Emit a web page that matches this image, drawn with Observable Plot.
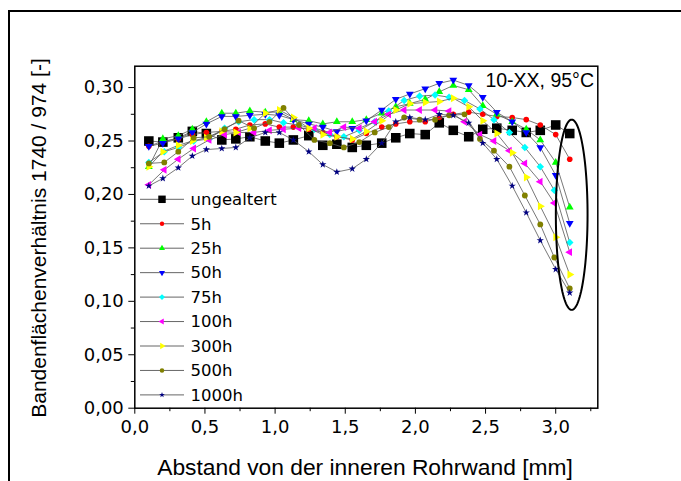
<!DOCTYPE html>
<html><head><meta charset="utf-8">
<script src="https://cdn.jsdelivr.net/npm/d3@7"></script>
<script src="https://cdn.jsdelivr.net/npm/@observablehq/plot@0.6"></script>
<style>
body{margin:0;background:#fff;}
#wrap{position:relative;width:681px;height:481px;overflow:hidden;background:#fff;}
#chart{position:absolute;left:0;top:0;}
#border{position:absolute;left:8px;top:10px;width:800px;height:600px;border:2px solid #000;pointer-events:none;}
</style></head><body>
<div id="wrap"><div id="chart"></div><div id="border"></div></div>
<script>
// x positions (mm) — two sampling grids
const xA = [0.10,0.20,0.31,0.41,0.51,0.62,0.72,0.82,0.93,1.03,1.13,1.24,1.34,1.44,1.55,1.65,1.76,1.86,1.96,2.07,2.17,2.27,2.38,2.48,2.58,2.69,2.79,2.89,3.00,3.10];
const xB = [0.10,0.21,0.31,0.42,0.53,0.64,0.74,0.85,0.96,1.06,1.17,1.28,1.39,1.49,1.60,1.71,1.81,1.92,2.03,2.14,2.24,2.35,2.46,2.56,2.67,2.78,2.89,2.99,3.10];

const yUngealtert = [0.250,0.249,0.253,0.259,0.257,0.251,0.252,0.254,0.250,0.248,0.251,0.255,0.246,0.247,0.244,0.246,0.248,0.253,0.257,0.256,0.267,0.260,0.254,0.261,0.262,0.260,0.258,0.260,0.265,0.257];
const y5h   = [0.245,0.250,0.252,0.256,0.258,0.259,0.261,0.265,0.266,0.263,0.263,0.261,0.258,0.254,0.251,0.257,0.263,0.266,0.268,0.268,0.272,0.275,0.277,0.275,0.273,0.272,0.270,0.265,0.256,0.233];
const y25h  = [0.226,0.252,0.255,0.261,0.268,0.276,0.276,0.278,0.277,0.277,0.270,0.269,0.266,0.268,0.268,0.270,0.276,0.282,0.285,0.289,0.296,0.302,0.298,0.283,0.275,0.268,0.261,0.251,0.230,0.188];
const y50h  = [0.245,0.248,0.252,0.258,0.266,0.273,0.273,0.274,0.275,0.274,0.270,0.266,0.263,0.259,0.262,0.269,0.279,0.289,0.294,0.299,0.304,0.307,0.302,0.291,0.277,0.268,0.258,0.244,0.218,0.173];
const y75h  = [0.230,0.240,0.244,0.250,0.252,0.262,0.268,0.270,0.270,0.267,0.265,0.261,0.256,0.254,0.260,0.268,0.278,0.288,0.292,0.293,0.291,0.288,0.280,0.270,0.258,0.244,0.226,0.204,0.155];
const y100h = [0.209,0.223,0.233,0.243,0.251,0.256,0.258,0.258,0.260,0.261,0.262,0.262,0.258,0.263,0.262,0.268,0.275,0.279,0.279,0.279,0.278,0.268,0.256,0.250,0.241,0.229,0.212,0.192,0.146];
const y300h = [0.226,0.240,0.246,0.250,0.253,0.259,0.258,0.262,0.276,0.279,0.272,0.262,0.256,0.254,0.252,0.259,0.269,0.279,0.285,0.286,0.287,0.290,0.282,0.269,0.257,0.239,0.216,0.189,0.160,0.125];
const y500h = [0.229,0.230,0.240,0.253,0.254,0.261,0.269,0.262,0.268,0.281,0.265,0.251,0.248,0.244,0.249,0.258,0.263,0.272,0.270,0.270,0.274,0.275,0.252,0.241,0.226,0.199,0.172,0.141,0.112];
const y1000h= [0.208,0.215,0.225,0.236,0.242,0.243,0.244,0.253,0.258,0.258,0.251,0.240,0.228,0.221,0.224,0.233,0.248,0.268,0.272,0.270,0.275,0.274,0.267,0.248,0.233,0.208,0.183,0.157,0.130,0.108];

const seriesNames = ["ungealtert","5h","25h","50h","75h","100h","300h","500h","1000h"];
const seriesX = [xA,xA,xA,xA,xB,xB,xA,xB,xA];
const seriesY = [yUngealtert,y5h,y25h,y50h,y75h,y100h,y300h,y500h,y1000h];
const seriesColors = ["#000000","#ff0000","#00ff00","#0000ff","#00ffff","#ff00ff","#ffff00","#808000","#000080"];

const xTicks = [0,0.5,1,1.5,2,2.5,3];
const xMinor = [0.25,0.75,1.25,1.75,2.25,2.75,3.25];
const yTicks = [0,0.05,0.10,0.15,0.20,0.25,0.30];
const yMinor = [0.025,0.075,0.125,0.175,0.225,0.275];
const note = "10-XX, 95°C";
const xTitle = "Abstand von der inneren Rohrwand [mm]";
const yTitle = "Bandenflächenverhältnis 1740 / 974 [-]";
const ellipse = {cx: 3.114, cy: 0.181, rx: 0.113, ry: 0.089};

// custom symbols
const s3 = Math.sqrt(3);
const triDown = {draw(c, size){const y=-Math.sqrt(size/(s3*3)); c.moveTo(0,-y*2); c.lineTo(-s3*y,y); c.lineTo(s3*y,y); c.closePath();}};
const triLeft = {draw(c, size){const y=-Math.sqrt(size/(s3*3)); c.moveTo(y*2,0); c.lineTo(-y,-s3*y); c.lineTo(-y,s3*y); c.closePath();}};
const triRight = {draw(c, size){const y=-Math.sqrt(size/(s3*3)); c.moveTo(-y*2,0); c.lineTo(y,-s3*y); c.lineTo(y,s3*y); c.closePath();}};
const diamond = {draw(c, size){const h=Math.sqrt(size/2); c.moveTo(0,-h); c.lineTo(h,0); c.lineTo(0,h); c.lineTo(-h,0); c.closePath();}};
const seriesSymbols = [d3.symbolSquare, d3.symbolCircle, d3.symbolTriangle, triDown, diamond, triLeft, triRight, d3.symbolCircle, d3.symbolStar];
const seriesR = [5.4, 2.8, 2.9, 2.9, 3.0, 2.9, 3.0, 2.9, 2.3];

const tables = seriesNames.map((n, i) => seriesY[i].map((v, j) => ({x: seriesX[i][j], y: v})));

const ellPts = d3.range(0, 361, 3).map(a => ({x: ellipse.cx + ellipse.rx*Math.cos(a*Math.PI/180), y: ellipse.cy + ellipse.ry*Math.sin(a*Math.PI/180)}));

const marks = [];
tables.forEach((t, i) => {
  marks.push(Plot.line(t, {x: "x", y: "y", stroke: "#555", strokeWidth: 0.8}));
  marks.push(Plot.dot(t, {x: "x", y: "y", symbol: seriesSymbols[i], r: seriesR[i], fill: seriesColors[i], stroke: "none"}));
});
marks.push(Plot.line(ellPts, {x: "x", y: "y", stroke: "#000", strokeWidth: 2}));

const fmtX = d => d.toFixed(1).replace(".", ",");
const fmtY = d => d.toFixed(2).replace(".", ",");

const plot = Plot.plot({
  width: 681, height: 481,
  marginLeft: 134.3, marginRight: 83.7, marginTop: 65.7, marginBottom: 73.3,
  style: {fontFamily: "DejaVu Sans", background: "transparent", color: "#000"},
  x: {domain: [0, 3.3]},
  y: {domain: [0, 0.32]},
  marks: [
    ...marks,
    Plot.frame({stroke: "#000", strokeWidth: 1.5}),
    Plot.axisX({ticks: xTicks, tickFormat: fmtX, tickSize: 6, tickPadding: 6.5, fontSize: 18, label: null}),
    Plot.axisX({ticks: xMinor, tickFormat: () => "", tickSize: 3.5, label: null}),
    Plot.axisY({ticks: yTicks, tickFormat: fmtY, tickSize: 6, tickPadding: 5, fontSize: 18, label: null}),
    Plot.axisY({ticks: yMinor, tickFormat: () => "", tickSize: 3.5, label: null})
  ]
});
document.getElementById("chart").appendChild(plot);

const svg = d3.select(plot);
// titles
svg.append("text").attr("x", 365).attr("y", 475).attr("text-anchor", "middle")
  .style("font-family", "Liberation Sans, Arial").style("font-size", "22.8px").attr("fill", "#000").text(xTitle);
svg.append("text").attr("transform", "translate(46,238) rotate(-90)").attr("text-anchor", "middle")
  .style("font-family", "Liberation Sans, Arial").style("font-size", "21px").attr("fill", "#000").text(yTitle);
svg.append("text").attr("x", 594).attr("y", 86.5).attr("text-anchor", "end")
  .style("font-family", "Liberation Sans, Arial").style("font-size", "19.5px").attr("fill", "#000").text(note);

// legend
const lg = svg.append("g").attr("text-anchor", "start");
seriesNames.forEach((n, i) => {
  const yy = 199.3 + 24.45 * i;
  lg.append("line").attr("x1", 140).attr("x2", 184).attr("y1", yy).attr("y2", yy).attr("stroke", "#666").attr("stroke-width", 1);
  const rr = seriesR[i] * 0.78;
  lg.append("path").attr("d", d3.symbol(seriesSymbols[i], Math.PI * rr * rr)()).attr("transform", `translate(162,${yy})`).attr("fill", seriesColors[i]);
  lg.append("text").attr("x", 190.5).attr("y", yy + 5.8).attr("text-anchor", "start").style("text-anchor", "start")
    .style("font-family", "DejaVu Sans").style("font-size", "16.5px").attr("fill", "#000").text(n);
});
</script>
</body></html>
